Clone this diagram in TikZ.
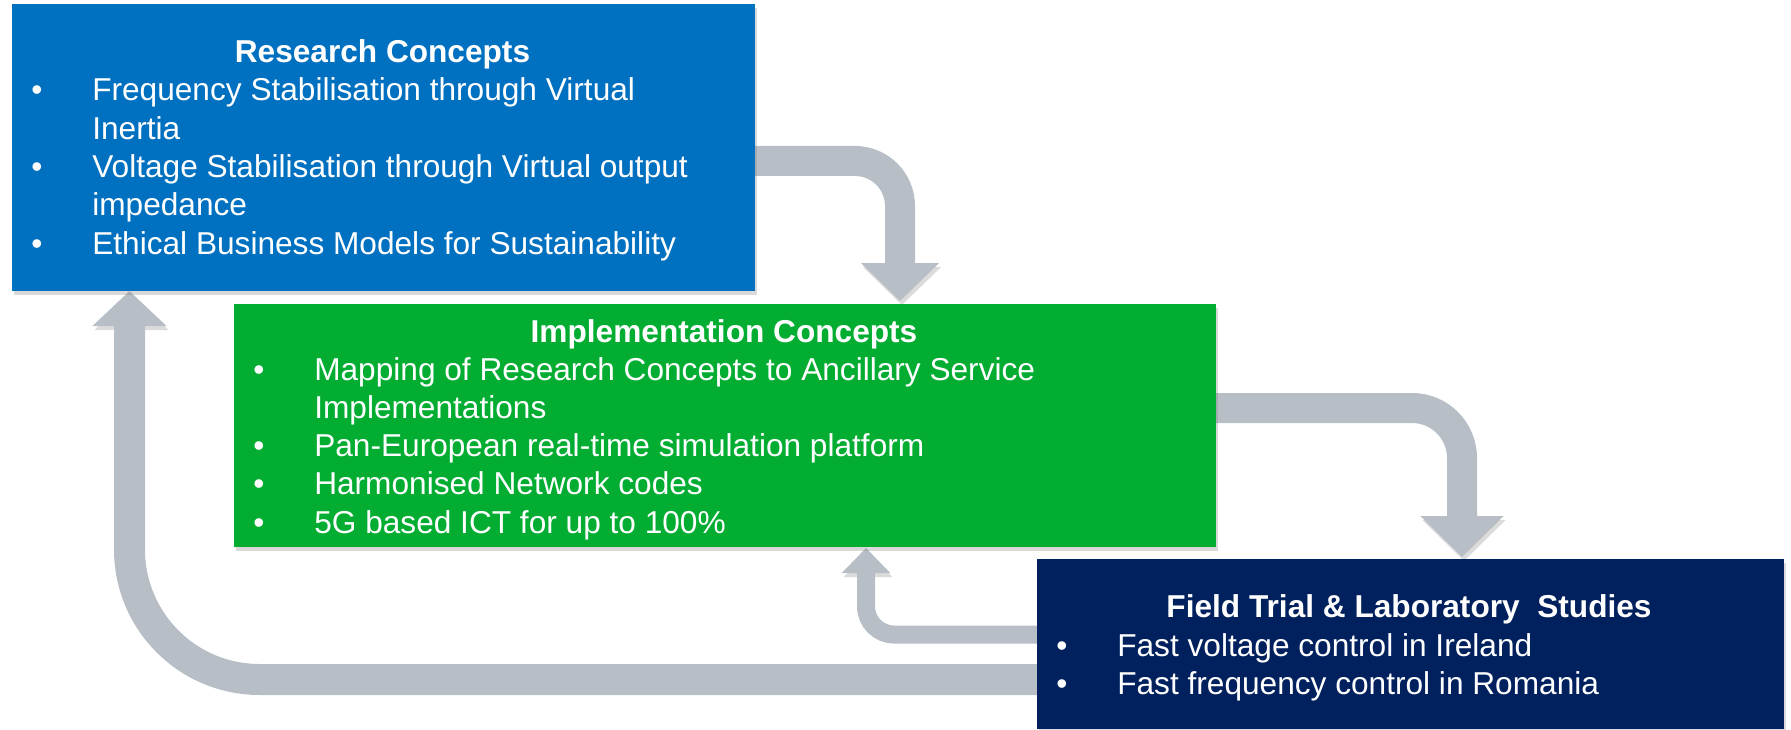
\documentclass[tikz,border=0pt]{standalone}
\usepackage{fontspec}
\setmainfont{Liberation Sans}
\usepackage{xcolor}
\usetikzlibrary{arrows.meta,shadows}

\definecolor{rcblue}{RGB}{0,112,192}
\definecolor{icgreen}{RGB}{2,173,50}
\definecolor{ftnavy}{RGB}{0,33,94}
\definecolor{flowgray}{RGB}{183,190,198}

\begin{document}
\begin{tikzpicture}[x=0.1mm,y=-0.1mm,
  font=\fontsize{9}{10.9}\selectfont,
  box/.style={fill=#1, inner sep=0pt, anchor=north west,
    drop shadow={opacity=0.3, shadow xshift=0.25mm, shadow yshift=-0.45mm}},
  title/.style={text=white, font=\fontsize{9}{10.9}\selectfont\bfseries, inner sep=0pt, anchor=base},
  items/.style={text=white, inner sep=0pt, anchor=base west},
  flow/.style={draw=flowgray, line cap=butt,
    preaction={draw=black!14, transform canvas={shift={(0.2mm,-0.4mm)}}}}]
% feste Seitengroesse wie das Vorbild
\useasboundingbox (0,0) rectangle (1791,730);

% Anschlusspunkte der Pfeile an den Kaesten
\coordinate (Rr) at (740,161);
\coordinate (It) at (900,301);
\coordinate (Ir) at (1200,408);
\coordinate (Ft) at (1462,557);
\coordinate (Fl1) at (1050,634.5);
\coordinate (Ib) at (866,548);
\coordinate (Fl2) at (1050,679.5);
\coordinate (Rb) at (129.5,291);

% Pfeile zuerst, Kaesten darueber
\draw[flow, line width=3mm, rounded corners=4.5mm, -{Triangle[width=7.6mm,length=3.8mm]}] (Rr) -| (It);
\draw[flow, line width=3mm, rounded corners=5mm, -{Triangle[width=8.1mm,length=4.1mm]}] (Ir) -| (Ft);
\draw[flow, line width=1.8mm, rounded corners=2.8mm, -{Triangle[width=4.7mm,length=2.5mm]}] (Fl1) -| (Ib);
\draw[flow, line width=3.1mm, rounded corners=13mm, -{Triangle[width=7.2mm,length=3.5mm]}] (Fl2) -| (Rb);

% Research
\node[box=rcblue, minimum width=74.3mm, minimum height=28.7mm] (research) at (11,3) {};
\node[title] (rtitle) at (382.5,63) {Research Concepts};
\node[items] (rlist) at (30.6,101) {\begin{tabular}[t]{@{}p{6.1mm}@{}l@{}}
\textbullet & Frequency Stabilisation through Virtual\\
 & Inertia\\
\textbullet & Voltage Stabilisation through Virtual output\\
 & impedance\\
\textbullet & Ethical Business Models for Sustainability
\end{tabular}};

% Implementation
\node[box=icgreen, minimum width=98.2mm, minimum height=24.3mm] (implementation) at (233,303) {};
\node[title] (ititle) at (724,342) {Implementation Concepts};
\node[items] (ilist) at (252.6,380) {\begin{tabular}[t]{@{}p{6.1mm}@{}l@{}}
\textbullet & Mapping of Research Concepts to Ancillary Service\\
 & Implementations\\
\textbullet & Pan-European real-time simulation platform\\
\textbullet & Harmonised Network codes\\
\textbullet & 5G based ICT for up to 100\%
\end{tabular}};

% Field trial
\node[box=ftnavy, minimum width=74.7mm, minimum height=17mm] (fieldtrial) at (1036,558) {};
\node[title] (ftitle) at (1409,617) {Field Trial \& Laboratory\ \ Studies};
\node[items] (flist) at (1055.6,656) {\begin{tabular}[t]{@{}p{6.1mm}@{}l@{}}
\textbullet & Fast voltage control in Ireland\\
\textbullet & Fast frequency control in Romania
\end{tabular}};
\end{tikzpicture}
\end{document}
